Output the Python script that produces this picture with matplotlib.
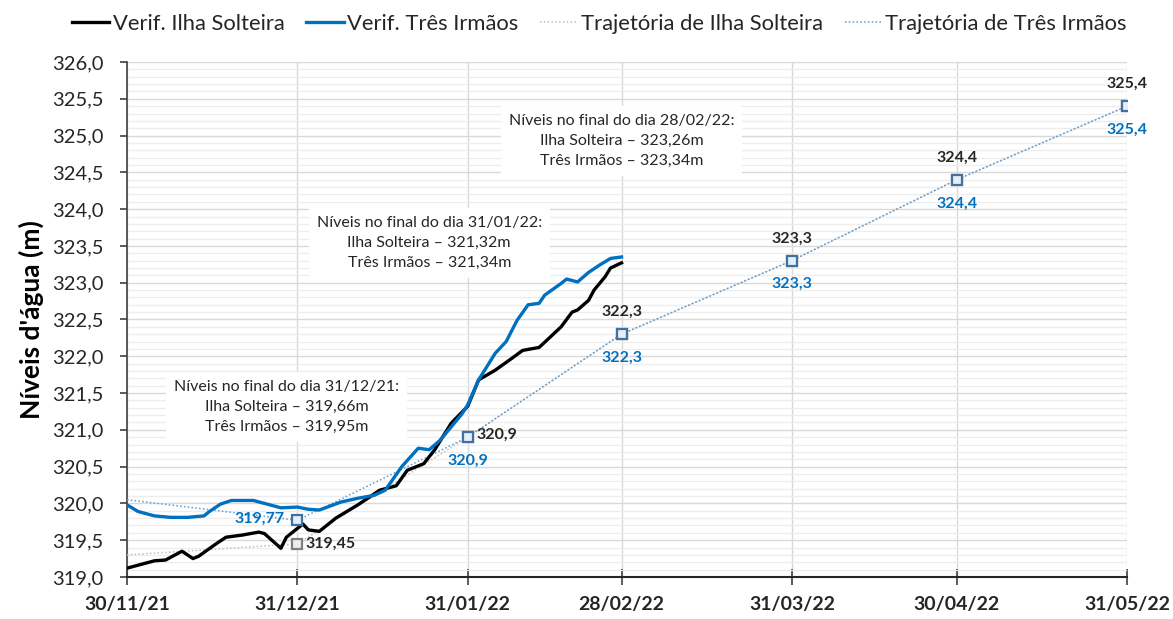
import numpy as np
import matplotlib
matplotlib.use("Agg")
import matplotlib.pyplot as plt
from matplotlib.ticker import MultipleLocator, FuncFormatter

plt.rcParams['font.family'] = ['Lato', 'DejaVu Sans']

start = np.datetime64('2021-11-30')

# Verified daily levels (day offset from 30/11/21, level in m)
is_days = [0, 2, 5, 7, 10, 12, 13, 16, 18, 21, 24, 25, 28, 29, 31, 32, 33, 35, 38, 42, 46, 49, 51, 54,
           56, 59, 62, 64, 67, 70, 72, 75, 77, 79, 81, 82, 84, 85, 87, 88, 90]
is_vals = [319.12, 319.16, 319.22, 319.23, 319.35, 319.25, 319.28, 319.44, 319.54, 319.57, 319.61, 319.59,
           319.39, 319.54, 319.66, 319.72, 319.64, 319.62, 319.80, 319.98, 320.18, 320.24, 320.45, 320.54,
           320.73, 321.09, 321.32, 321.68, 321.81, 321.97, 322.08, 322.12, 322.26, 322.40, 322.60, 322.63,
           322.76, 322.90, 323.08, 323.20, 323.27]

ti_days = [0, 2, 5, 8, 11, 14, 15, 17, 19, 23, 25, 28, 31, 33, 35, 39, 42, 45, 47, 50, 53, 55, 57, 61,
           62, 64, 67, 69, 71, 73, 75, 76, 79, 80, 82, 84, 86, 88, 90]
ti_vals = [319.98, 319.89, 319.83, 319.81, 319.81, 319.83, 319.89, 319.99, 320.04, 320.04, 320.00, 319.94,
           319.95, 319.92, 319.91, 320.02, 320.07, 320.11, 320.18, 320.50, 320.75, 320.73, 320.86, 321.22,
           321.34, 321.68, 322.04, 322.20, 322.49, 322.70, 322.72, 322.83, 322.99, 323.05, 323.01, 323.14,
           323.24, 323.33, 323.35]

# Trajectories
traj_dates = ['2021-11-30', '2021-12-31', '2022-01-31', '2022-02-28', '2022-03-31', '2022-04-30', '2022-05-31']
traj_is = [319.30, 319.45, 320.90, 322.30, 323.30, 324.40, 325.40]
traj_ti = [320.05, 319.77, 320.90, 322.30, 323.30, 324.40, 325.40]
lab_is = ['', '319,45', '320,9', '322,3', '323,3', '324,4', '325,4']
lab_ti = ['', '319,77', '320,9', '322,3', '323,3', '324,4', '325,4']

tick_dates = ['2021-11-30', '2021-12-31', '2022-01-31', '2022-02-28', '2022-03-31', '2022-04-30', '2022-05-31']
tick_labels = ['30/11/21', '31/12/21', '31/01/22', '28/02/22', '31/03/22', '30/04/22', '31/05/22']

notes = [
    ('2021-12-29', 321.31, "Níveis no final do dia 31/12/21:\nIlha Solteira – 319,66m\nTrês Irmãos – 319,95m"),
    ('2022-01-24', 323.54, "Níveis no final do dia 31/01/22:\nIlha Solteira – 321,32m\nTrês Irmãos – 321,34m"),
    ('2022-02-28', 324.93, "Níveis no final do dia 28/02/22:\nIlha Solteira – 323,26m\nTrês Irmãos – 323,34m"),
]

is_x = start + np.array(is_days).astype('timedelta64[D]')
ti_x = start + np.array(ti_days).astype('timedelta64[D]')
tr_x = np.array(traj_dates, dtype='datetime64[D]')

fig = plt.figure(figsize=(11.73, 6.19), dpi=100)
ax = fig.add_axes([0.1083, 0.0679, 0.8525, 0.8319])

blue = '#0070C0'
ax.plot(is_x, is_vals, color='black', lw=2.4, label='Verif. Ilha Solteira', zorder=4)
ax.plot(ti_x, ti_vals, color=blue, lw=2.4, label='Verif. Três Irmãos', zorder=4)
ax.plot(tr_x, traj_is, color='#BFBFBF', lw=1.1, ls=(0, (1, 1.5)), label='Trajetória de Ilha Solteira', zorder=3)
ax.plot(tr_x, traj_ti, color='#5B9BD5', lw=1.1, ls=(0, (1, 1.5)), label='Trajetória de Três Irmãos', zorder=3)

# markers (skip the starting point)
ax.plot(tr_x[1:], traj_is[1:], ls='none', marker='s', ms=7, mfc='#EDEDED', mec='#7F7F7F', mew=1.6, zorder=5)
ax.plot(tr_x[1:], traj_ti[1:], ls='none', marker='s', ms=7, mfc='#E4EEF8', mec='#41719C', mew=1.6, zorder=6)

fs_lab = 11.5
for i in range(1, len(tr_x)):
    if i == 1:
        ax.annotate(lab_is[i], (tr_x[i], traj_is[i]), xytext=(6, 0), textcoords='offset points',
                    ha='left', va='center', fontsize=fs_lab, fontweight='bold', color='#262626', zorder=7)
        ax.annotate(lab_ti[i], (tr_x[i], traj_ti[i]), xytext=(-9, 1), textcoords='offset points',
                    ha='right', va='center', fontsize=fs_lab, fontweight='bold', color=blue, zorder=7)
    elif i == 2:
        ax.annotate(lab_is[i], (tr_x[i], traj_is[i]), xytext=(6, 2), textcoords='offset points',
                    ha='left', va='center', fontsize=fs_lab, fontweight='bold', color='#262626', zorder=7)
        ax.annotate(lab_ti[i], (tr_x[i], traj_ti[i]), xytext=(0, -17), textcoords='offset points',
                    ha='center', va='center', fontsize=fs_lab, fontweight='bold', color=blue, zorder=7)
    else:
        ax.annotate(lab_is[i], (tr_x[i], traj_is[i]), xytext=(0, 16), textcoords='offset points',
                    ha='center', va='center', fontsize=fs_lab, fontweight='bold', color='#262626', zorder=7)
        ax.annotate(lab_ti[i], (tr_x[i], traj_ti[i]), xytext=(0, -17), textcoords='offset points',
                    ha='center', va='center', fontsize=fs_lab, fontweight='bold', color=blue, zorder=7)

for d, y, t in notes:
    ax.text(np.datetime64(d), y, t, ha='center', va='center', fontsize=11.5, color='#262626',
            linespacing=1.55, zorder=3.5,
            bbox=dict(boxstyle='square,pad=0.5', fc='white', ec='none'))

ax.set_xlim(np.datetime64('2021-11-30'), np.datetime64('2022-05-31'))
ax.set_ylim(319.0, 326.0)
ax.set_xticks(np.array(tick_dates, dtype='datetime64[D]'))
ax.set_xticklabels(tick_labels, fontsize=14, fontweight='bold', color='#262626')
ax.yaxis.set_major_locator(MultipleLocator(0.5))
ax.yaxis.set_minor_locator(MultipleLocator(0.1))
ax.yaxis.set_major_formatter(FuncFormatter(lambda v, p: f"{v:.1f}".replace('.', ',')))
ax.tick_params(axis='y', labelsize=14.5, labelcolor='#262626', length=5, width=1.2, color='#404040', pad=12)
ax.tick_params(axis='y', which='minor', length=0)
ax.tick_params(axis='x', direction='inout', length=12, width=1.2, color='#404040', pad=8)

ax.grid(axis='y', which='major', color='#D9D9D9', lw=1.0, zorder=0)
ax.grid(axis='y', which='minor', color='#EDEDED', lw=0.9, zorder=0)
ax.grid(axis='x', which='major', color='#D9D9D9', lw=1.0, zorder=0)
ax.set_axisbelow(True)

for s in ['top', 'right']:
    ax.spines[s].set_visible(False)
ax.spines['left'].set_color('#404040')
ax.spines['left'].set_linewidth(1.2)
ax.spines['bottom'].set_color('#262626')
ax.spines['bottom'].set_linewidth(1.5)

ax.set_ylabel("Níveis d'água (m)", fontsize=19, fontweight='bold', color='black', labelpad=6)

handles, labels = ax.get_legend_handles_labels()
fig.legend(handles, labels, loc='center', bbox_to_anchor=(0.511, 1 - 24 / 619), ncol=4, frameon=False,
           fontsize=15.8, columnspacing=1.0, handlelength=1.7, handletextpad=0.15, labelcolor='#262626')

fig.savefig('out.png', dpi=100)
